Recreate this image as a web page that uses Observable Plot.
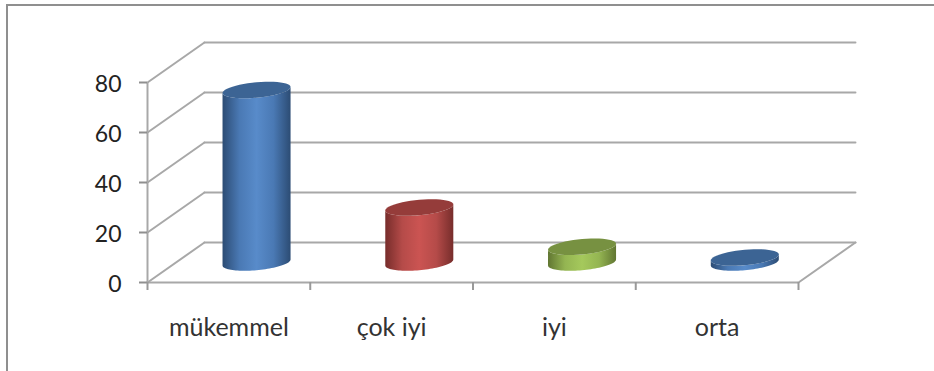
<!DOCTYPE html>
<html>
<head>
<meta charset="utf-8">
<script src="https://cdn.jsdelivr.net/npm/d3@7"></script>
<script src="https://cdn.jsdelivr.net/npm/@observablehq/plot@0.6"></script>
<style>
  html, body { margin: 0; background: #fff; }
  #chart { position: relative; width: 934px; height: 371px; overflow: hidden; }
  #border { position: absolute; left: 6px; top: 4px; right: 0; bottom: 0;
            border-left: 2px solid #8f8f8f; border-top: 2px solid #8f8f8f; }
  #chart svg { position: absolute; left: 0; top: 0; }
</style>
</head>
<body>
<div id="chart"><div id="border"></div></div>
<script>
const categories = ["mükemmel", "çok iyi", "iyi", "orta"];
const values = [69, 22, 6.3, 2];
const yTicks = [0, 20, 40, 60, 80];
const bandEdges = [0, 1, 2, 3, 4];
const faceColors = ["#3c6494", "#953c3a", "#779141", "#3c6494"];
const shades = [
  ["#2c4c74", "#4a79b4", "#588bca", "#4a79b4", "#2c4c74"],
  ["#772d2b", "#b54b49", "#cb5452", "#b54b49", "#772d2b"],
  ["#617632", "#94b552", "#a5c95c", "#94b552", "#617632"],
  ["#2c4c74", "#4a79b4", "#588bca", "#4a79b4", "#2c4c74"]
];
const stopOffsets = ["0%", "25%", "50%", "75%", "100%"];

// Oblique 3-D projection expressed in data units: depth 1 is the back wall.
const depthX = 0.35, depthY = 16;
const project = (x, y, depth) => ({x: x + depthX * depth, y: y + depthY * depth});

// Cylinder cross-section, also in data units (x bands, y value units).
const radiusX = 0.209, radiusY = 3.1, tilt = 1.2, columnShift = -0.005;
const ring = (i, level, from, to, steps = 48) =>
  d3.range(steps + 1).map((s) => {
    const t = from + (to - from) * s / steps;
    const c = project(i + 0.5 + columnShift, level, 0.5);
    return {x: c.x + radiusX * Math.cos(t), y: c.y + radiusY * Math.sin(t) + tilt * Math.cos(t)};
  });

const gridColor = "#a8a8a8";

// Horizontal gradients for the cylinder bodies.
const gradients = () => {
  const defs = d3.create("svg:defs");
  shades.forEach((stops, i) => {
    const g = defs.append("linearGradient").attr("id", `body${i}`);
    stops.forEach((color, k) => {
      g.append("stop").attr("offset", stopOffsets[k]).attr("stop-color", color);
    });
  });
  return defs.node();
};

const floorOutline = [project(4, 0, 0), project(4, 0, 1)];

const chart = Plot.plot({
  width: 934,
  height: 371,
  marginLeft: 147,
  marginRight: 136,
  marginTop: 82,
  marginBottom: 89,
  style: {background: "transparent", overflow: "visible"},
  x: {type: "linear", domain: [0, 4], axis: null},
  y: {type: "linear", domain: [0, 80]},
  marks: [
    gradients,
    // Back wall gridlines and side wall diagonals
    ...yTicks.map((v) => Plot.line([project(0, v, 1), project(4, v, 1)],
      {x: "x", y: "y", stroke: gridColor, strokeWidth: 2})),
    ...yTicks.map((v) => Plot.line([project(0, v, 0), project(0, v, 1)],
      {x: "x", y: "y", stroke: gridColor, strokeWidth: 2})),
    Plot.line(floorOutline, {x: "x", y: "y", stroke: gridColor, strokeWidth: 2}),
    // Front edge of the floor
    Plot.ruleY([0], {stroke: gridColor, strokeWidth: 2}),
    // Value axis: tick marks, then labels nudged down onto the tick centres
    Plot.ruleX([0], {y1: 0, y2: 80, stroke: gridColor, strokeWidth: 2}),
    Plot.axisY({
      ticks: yTicks, tickSize: 8, text: null, stroke: "#8f8f8f", strokeWidth: 2,
      label: null, anchor: "left"
    }),
    Plot.axisY({
      ticks: yTicks, tickSize: 0, tickPadding: 26, dy: 2,
      fill: "#222", fontSize: 23, fontFamily: "Lato", label: null, anchor: "left"
    }),
    // Category tick marks and labels
    Plot.ruleX(bandEdges, {x: (d) => d, y1: 0, y2: -3.2, stroke: "#999", strokeWidth: 2}),
    Plot.text(categories, {
      x: (d, i) => i + 0.5, y: 0, dy: 45, text: (d) => d,
      fontSize: 25, fontFamily: "Lato", fill: "#333"
    }),
    // Cylinders: body first, then the top face
    ...values.flatMap((v, i) => [
      Plot.line(
        [...ring(i, 0, Math.PI, 2 * Math.PI), ...ring(i, v, 0, -Math.PI)],
        {x: "x", y: "y", stroke: "none", fill: `url(#body${i})`, curve: "linear"}
      ),
      Plot.line(
        ring(i, v, 0, 2 * Math.PI),
        {x: "x", y: "y", stroke: "none", fill: faceColors[i], curve: "linear"}
      )
    ])
  ]
});
document.getElementById("chart").appendChild(chart);
</script>
</body>
</html>
